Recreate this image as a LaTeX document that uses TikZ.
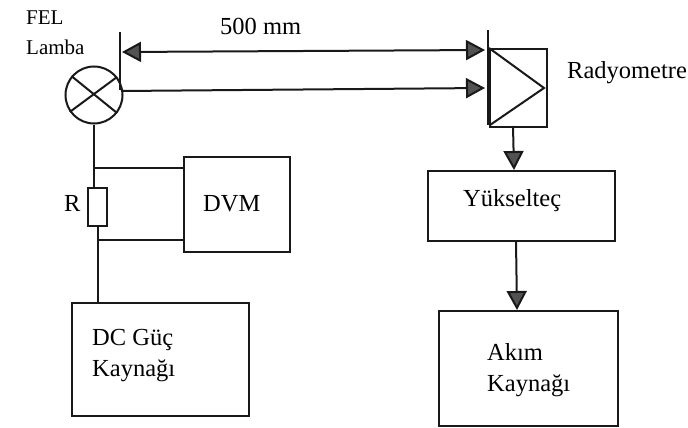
\documentclass[tikz,border=0pt]{standalone}
\usepackage{fontspec}
\setmainfont{Liberation Serif}
\usetikzlibrary{arrows.meta}
\tikzset{
  wire/.style={line width=2pt,draw=black!90},
  boxnode/.style={draw=black!90,line width=2pt,rectangle,inner sep=0pt,anchor=north west},
  txt/.style={anchor=base west,inner sep=0pt,font=\fontsize{24.5}{26}\selectfont,text=black},
  smalltxt/.style={anchor=base west,inner sep=0pt,font=\fontsize{21}{23}\selectfont,text=black},
  tipR/.style={-{Triangle[length=19pt,width=20pt,fill=black!68]}},
  tipB/.style={{Triangle[length=19pt,width=20pt,fill=black!68]}-{Triangle[length=19pt,width=20pt,fill=black!68]}}
}
\begin{document}
\begin{tikzpicture}[x=1pt,y=-1pt]
\useasboundingbox (0,0) rectangle (688,428);
% nodes
\node[wire,draw,circle,minimum size=57pt,inner sep=0pt] (lamp) at (94,95) {};
\node[boxnode,minimum width=19pt,minimum height=38pt] (res) at (87,187) {};
\node[boxnode,minimum width=106pt,minimum height=95pt] (dvm) at (183,156) {};
\node[boxnode,minimum width=177pt,minimum height=113pt] (dc) at (71,302) {};
\node[boxnode,minimum width=57pt,minimum height=78pt] (rad) at (489,48) {};
\node[boxnode,minimum width=187pt,minimum height=70pt] (yuk) at (427,170) {};
\node[boxnode,minimum width=179pt,minimum height=115pt] (akim) at (438,310) {};
% free ends
\coordinate (lbartop) at (120,32);
\coordinate (lbarbot) at (120,90);
\coordinate (rbartop) at (488,30);
\coordinate (rbarbot) at (488,125);
\coordinate (a1l) at (122,52);
\coordinate (a1r) at (485,50);
\coordinate (a2l) at (121,91);
\coordinate (a2r) at (485,88);
\coordinate (j1) at (94,168);
\coordinate (j2) at (98,240);
\coordinate (radout) at (513,126);
\coordinate (yukin) at (514,170);
\coordinate (yukout) at (516,241);
\coordinate (akimin) at (517,310);
\coordinate (tria) at (489,48);
\coordinate (trib) at (544,88);
\coordinate (tric) at (490,125);
% lamp cross
\draw[wire] (lamp.140) -- (lamp.-38);
\draw[wire] (lamp.215) -- (lamp.38);
% bars
\draw[wire] (lbartop) -- (lbarbot);
\draw[wire] (rbartop) -- (rbarbot);
% radiometer triangle
\draw[wire] (tria) -- (trib) -- (tric);
% arrows
\draw[wire,tipB] (a1l) -- (a1r);
\draw[wire,tipR] (a2l) -- (a2r);
\draw[wire,tipR] (radout) -- (yukin);
\draw[wire,tipR] (yukout) -- (akimin);
% circuit
\draw[wire] (lamp.south) -- (j1) -- (j1 |- res.north);
\draw[wire] (j2 |- res.south) -- (j2) -- (j2 |- dc.north);
\draw[wire] (j1) -- (j1 -| dvm.west);
\draw[wire] (j2) -- (j2 -| dvm.west);
% labels
\node[smalltxt] (tfel) at (26,25) {FEL};
\node[smalltxt] (tlamba) at (26,55) {Lamba};
\node[txt] (t500) at (220,35) {500 mm};
\node[txt] (trad) at (567,78) {Radyometre};
\node[txt] (tr) at (64,211) {R};
\node[txt] (tdvm) at (203,211) {DVM};
\node[txt] (tyuk) at (463,206) {Yükselteç};
\node[txt] (tdc) at (92,345) {DC Güç};
\node[txt] (tk1) at (92,376) {Kaynağı};
\node[txt] (takim) at (487,360) {Akım};
\node[txt] (tk2) at (487,391) {Kaynağı};
\end{tikzpicture}
\end{document}
